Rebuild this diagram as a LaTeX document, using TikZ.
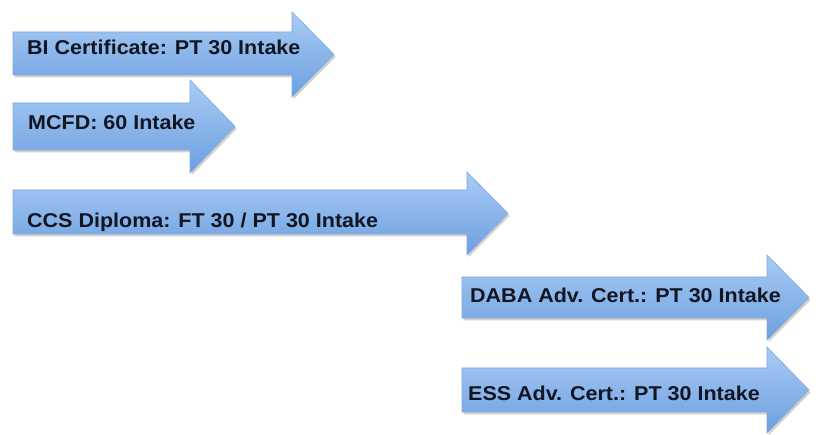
\documentclass[tikz,border=0pt]{standalone}
\usepackage{fontspec}
\setmainfont{Liberation Sans}[FakeStretch=1.075]
\usetikzlibrary{calc}
\definecolor{arrtop}{HTML}{A9CCF4}
\definecolor{arrbot}{HTML}{6C9FE0}
\definecolor{arredge}{HTML}{7FA9DC}
\definecolor{txtcol}{HTML}{121522}
\tikzset{
  bigarrow/.style={top color=arrtop, bottom color=arrbot, draw=arredge, line width=0.6pt, line join=miter},
  arrshadow/.style={fill=black!18, draw=none},
  arrlabel/.style={anchor=west, inner sep=0pt, text=txtcol, font=\fontsize{20}{24}\selectfont\bfseries}
}
% #1 x0, #2 body top, #3 body bottom, #4 head x, #5 head top, #6 head bottom, #7 tip x
\newcommand\myarrow[7]{%
  \path[arrshadow] ($(#1,#2)+(1.5,2.5)$) -- ($(#4,#2)+(1.5,2.5)$) -- ($(#4,#5)+(1.5,2.5)$) -- ($(#7,{(#5+#6)/2})+(1.5,2.5)$) -- ($(#4,#6)+(1.5,2.5)$) -- ($(#4,#3)+(1.5,2.5)$) -- ($(#1,#3)+(1.5,2.5)$) -- cycle;
  \path[bigarrow] (#1,#2) -- (#4,#2) -- (#4,#5) -- (#7,{(#5+#6)/2}) -- (#4,#6) -- (#4,#3) -- (#1,#3) -- cycle;
}
\begin{document}
\begin{tikzpicture}[x=1pt,y=-1pt]
\useasboundingbox (0,0) rectangle (823,435);
\fill[white] (0,0) rectangle (823,435);
\myarrow{13}{32}{75}{292}{12}{97}{334}
\myarrow{13}{103}{150}{190}{80}{173}{235}
\myarrow{13}{190}{234}{467}{172}{255}{508}
\myarrow{462}{277}{318}{767}{255}{340}{809}
\myarrow{462}{368}{412}{767}{347}{433}{809}
\node[arrlabel] (bi) at (27,47.5) {BI Certificate: PT 30 Intake};
\node[arrlabel] (mcfd) at (28,122.5) {MCFD: 60 Intake};
\node[arrlabel] (ccs) at (27,222) {CCS Diploma: FT 30 / PT 30 Intake};
\node[arrlabel] (daba) at (470,295) {DABA Adv. Cert.: PT 30 Intake};
\node[arrlabel] (ess) at (468,393) {ESS Adv. Cert.: PT 30 Intake};
\end{tikzpicture}
\end{document}
